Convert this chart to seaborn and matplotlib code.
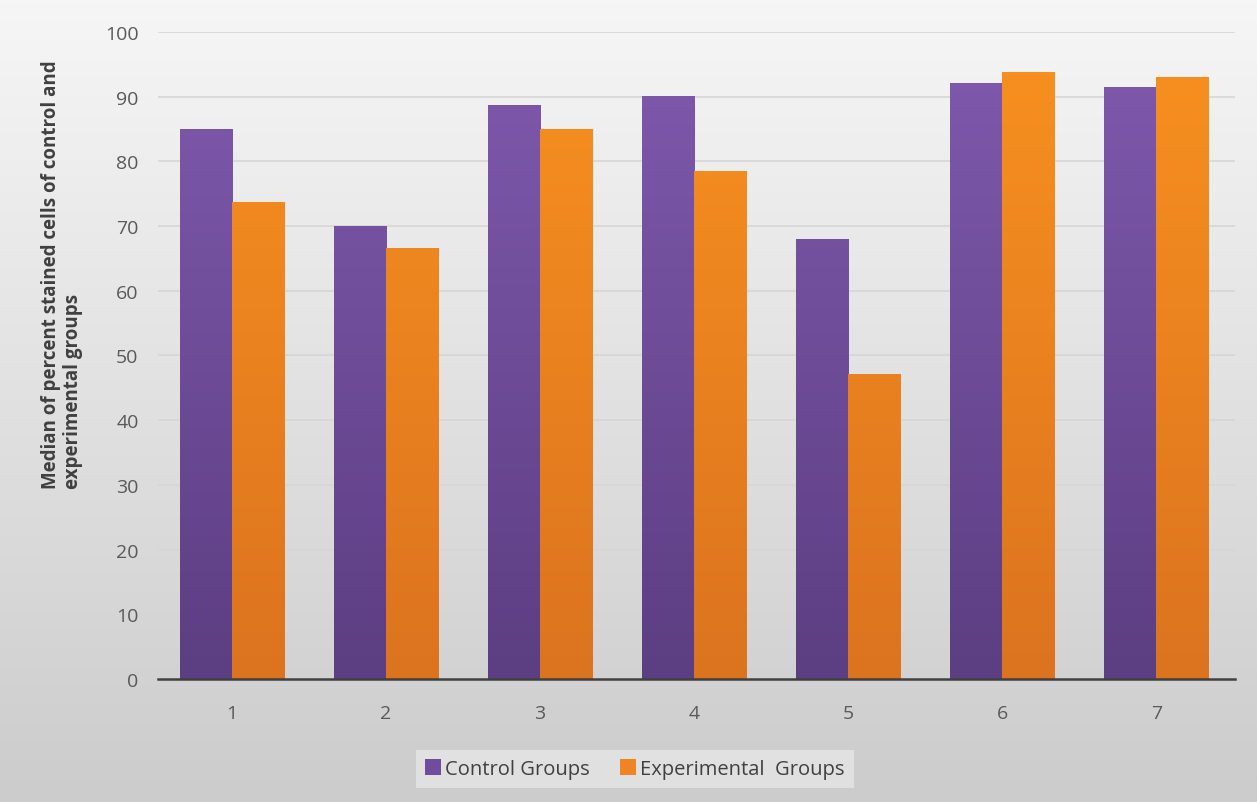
import numpy as np
import pandas as pd
import matplotlib
matplotlib.use("Agg")
import matplotlib.pyplot as plt
import matplotlib.colors as mcolors
import seaborn as sns

categories = ["1", "2", "3", "4", "5", "6", "7"]
control = [85.0, 70.0, 88.6, 90.1, 68.0, 92.1, 91.5]
experimental = [73.6, 66.6, 85.0, 78.5, 47.1, 93.7, 93.0]
series_names = ["Control Groups", "Experimental  Groups"]
y_ticks = [0, 10, 20, 30, 40, 50, 60, 70, 80, 90, 100]

df = pd.DataFrame({
    "group": categories * 2,
    "value": control + experimental,
    "series": [series_names[0]] * len(categories) + [series_names[1]] * len(categories),
})

sns.set_theme(style="white")
plt.rcParams["font.family"] = ["Open Sans", "DejaVu Sans"]

fig = plt.figure(figsize=(12.57, 8.03), dpi=100)

# background gradient
bg = fig.add_axes([0, 0, 1, 1], zorder=-10)
grad = np.linspace(0, 1, 256).reshape(-1, 1)
top_c = np.array([0.965, 0.965, 0.965])
bot_c = np.array([0.80, 0.80, 0.80])
img = top_c[None, None, :] * (1 - grad[:, :, None]) + bot_c[None, None, :] * grad[:, :, None]
bg.imshow(img, aspect="auto", extent=[0, 1, 0, 1], origin="upper")
bg.axis("off")

ax = fig.add_axes([0.1257, 0.1532, 0.8568, 0.8057])
ax.patch.set_alpha(0)

palette = {series_names[0]: "#6F4C9E", series_names[1]: "#EE8423"}
sns.barplot(data=df, x="group", y="value", hue="series", order=categories,
            hue_order=series_names, palette=palette, width=0.675, gap=0,
            saturation=1, ax=ax, legend=True, zorder=3, linewidth=0)

# vertical gradient fill on bars (darker toward the baseline)
grad_cols = {
    mcolors.to_hex(palette[series_names[0]]): ("#805AAE", "#5C3E82"),
    mcolors.to_hex(palette[series_names[1]]): ("#F8911F", "#DC7320"),
}
for p in list(ax.patches):
    fc = mcolors.to_hex(p.get_facecolor())
    if fc not in grad_cols or p.get_height() <= 0:
        continue
    c_top, c_bot = (np.array(mcolors.to_rgb(c)) for c in grad_cols[fc])
    x0, w, h = p.get_x(), p.get_width(), p.get_height()
    t = np.linspace(h / 100.0, 0, 200).reshape(-1, 1, 1)
    im = c_bot[None, None, :] * (1 - t) + c_top[None, None, :] * t
    ax.imshow(im, extent=[x0, x0 + w, 0, h], aspect="auto", zorder=3.5,
              origin="upper", interpolation="bilinear")
ax.set_xlim(-0.48, 6.51)
ax.set_ylim(0, 100)
ax.set_yticks(y_ticks)

ax.yaxis.grid(True, color="#d6d6d6", linewidth=1.2, zorder=0)
ax.set_axisbelow(True)
for s in ["top", "right", "left"]:
    ax.spines[s].set_visible(False)
ax.spines["bottom"].set_color("#404040")
ax.spines["bottom"].set_linewidth(1.8)
ax.spines["bottom"].set_zorder(5)
ax.tick_params(axis="both", length=0, labelsize=14, colors="#595959")
ax.tick_params(axis="y", pad=14)
ax.tick_params(axis="x", pad=18)
ax.set_xlabel("")
ax.set_ylabel("Median of percent stained cells of control and\nexperimental groups",
              fontsize=13.5, fontweight="bold", color="#404040", linespacing=1.1)
ax.yaxis.label.set_multialignment("left")
ax.yaxis.set_label_coords(-0.07, 0.626)

leg = ax.legend(loc="center", bbox_to_anchor=(0.443, -0.139), ncol=2, frameon=True,
                fontsize=14.5, handlelength=0.8, handleheight=0.8, handletextpad=0.2,
                columnspacing=1.5, borderpad=0.45, fancybox=False)
leg.get_frame().set_facecolor("#e6e6e6")
leg.get_frame().set_edgecolor("none")
for t in leg.get_texts():
    t.set_color("#404040")

fig.savefig("out.png", dpi=100)
